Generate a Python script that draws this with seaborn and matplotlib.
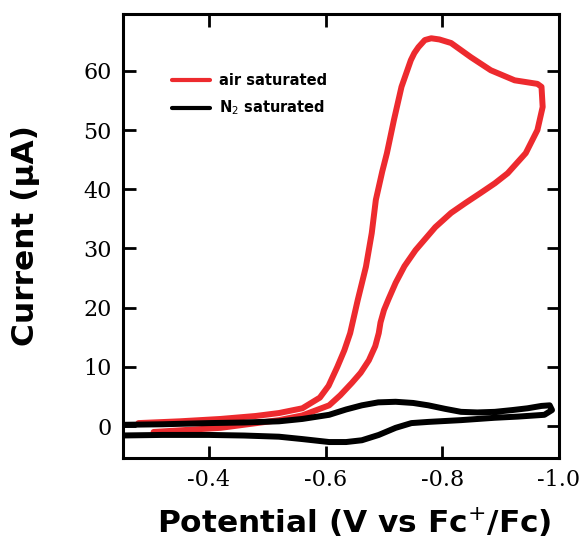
import numpy as np
import matplotlib
matplotlib.use('Agg')
import matplotlib.pyplot as plt
import seaborn as sns

# air saturated CV (forward scan, then reverse scan)
air_v_fwd = [-0.279, -0.35, -0.42, -0.48, -0.52, -0.56, -0.59, -0.605, -0.62, -0.632,
             -0.642, -0.655, -0.669, -0.679, -0.686, -0.697, -0.705, -0.717, -0.730, -0.746,
             -0.752, -0.759, -0.770, -0.781, -0.795, -0.815, -0.849, -0.883, -0.924, -0.963,
             -0.970]
air_i_fwd = [0.5, 0.8, 1.2, 1.7, 2.2, 3.0, 4.8, 6.8, 10.0, 12.8,
             15.7, 21.3, 26.9, 32.6, 38.2, 43.0, 46.1, 51.7, 57.3, 61.8,
             63.0, 64.0, 65.2, 65.5, 65.3, 64.7, 62.3, 60.1, 58.4, 57.8,
             57.3]
air_v_rev = [-0.972, -0.963, -0.943, -0.912, -0.890, -0.866, -0.840, -0.815, -0.788, -0.754,
             -0.735, -0.720, -0.708, -0.700, -0.694, -0.691, -0.685, -0.674, -0.660, -0.645,
             -0.625, -0.606, -0.56, -0.52, -0.42, -0.305]
air_i_rev = [53.9, 50.0, 46.1, 42.7, 41.0, 39.4, 37.7, 36.0, 33.6, 29.7,
             27.0, 24.2, 21.5, 19.6, 17.5, 15.7, 13.5, 11.1, 9.0, 7.3,
             5.2, 3.5, 1.8, 1.0, -0.3, -1.0]

# N2 saturated CV
n2_v_fwd = [-0.245, -0.32, -0.40, -0.46, -0.52, -0.56, -0.606, -0.635, -0.662, -0.690,
            -0.720, -0.750, -0.776, -0.805, -0.832, -0.860, -0.890, -0.920, -0.946, -0.970,
            -0.984, -0.988]
n2_i_fwd = [0.2, 0.3, 0.5, 0.6, 0.8, 1.2, 1.9, 2.8, 3.5, 4.0,
            4.1, 3.9, 3.5, 2.9, 2.4, 2.3, 2.4, 2.7, 3.0, 3.4,
            3.5, 2.7]
n2_v_rev = [-0.975, -0.930, -0.890, -0.832, -0.776, -0.747, -0.720, -0.691, -0.662, -0.635,
            -0.606, -0.56, -0.52, -0.46, -0.40, -0.32, -0.245]
n2_i_rev = [1.9, 1.6, 1.4, 1.0, 0.7, 0.5, -0.3, -1.5, -2.4, -2.7,
            -2.7, -2.2, -1.8, -1.6, -1.5, -1.5, -1.6]

x_ticks = [-0.4, -0.6, -0.8, -1.0]
y_ticks = [0, 10, 20, 30, 40, 50, 60]

sns.set_style('ticks')
plt.rcParams.update({'axes.unicode_minus': False, 'text.color': 'black',
                     'axes.labelcolor': 'black', 'axes.edgecolor': 'black',
                     'xtick.color': 'black', 'ytick.color': 'black'})

fig = plt.figure(figsize=(5.87, 5.43), dpi=100)
ax = fig.add_axes([0.2095, 0.1565, 0.7428, 0.8177])

sns.lineplot(x=air_v_fwd + air_v_rev, y=air_i_fwd + air_i_rev, sort=False, estimator=None,
             color='#ED2A2E', lw=4.3, ax=ax, label='air saturated',
             solid_joinstyle='round', solid_capstyle='round')
sns.lineplot(x=n2_v_fwd + n2_v_rev, y=n2_i_fwd + n2_i_rev, sort=False, estimator=None,
             color='black', lw=4.3, ax=ax, label='N$_2$ saturated',
             solid_joinstyle='round', solid_capstyle='round')

ax.set_xlim(-0.2525, -1.0)
ax.set_ylim(-5.4, 69.6)
ax.set_xticks(x_ticks)
ax.set_xticklabels(['%.1f' % t for t in x_ticks])
ax.set_yticks(y_ticks)

for s in ax.spines.values():
    s.set_linewidth(2.2)
    s.set_visible(True)
ax.tick_params(direction='in', top=True, right=True, length=9, width=2, pad=8)
for lab in ax.get_xticklabels() + ax.get_yticklabels():
    lab.set_fontfamily('DejaVu Serif')
    lab.set_fontsize(16)

ax.set_xlabel('Potential (V vs Fc$^{+}$/Fc)', fontsize=22.5, fontweight='bold', family='DejaVu Sans')
ax.set_ylabel('Current (µA)', fontsize=22.5, fontweight='bold', family='DejaVu Sans')
ax.xaxis.set_label_coords(0.53, -0.108)
ax.yaxis.set_label_coords(-0.19, 0.5)

leg = ax.legend(loc='upper left', bbox_to_anchor=(0.1, 0.881), frameon=False,
                prop={'weight': 'bold', 'size': 10.5}, handlelength=2.6,
                handletextpad=0.6, labelspacing=0.75, borderaxespad=0)
for h in leg.get_lines():
    h.set_linewidth(3)

fig.savefig('out.png', dpi=100)
